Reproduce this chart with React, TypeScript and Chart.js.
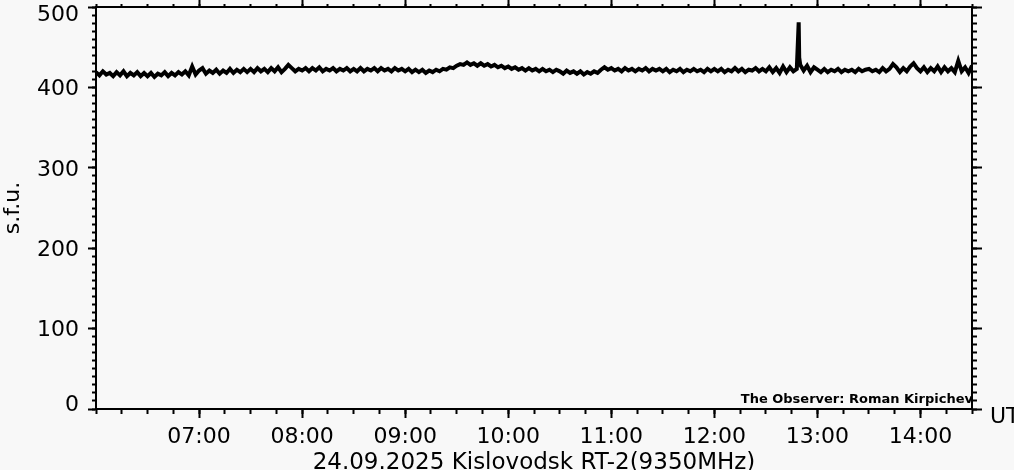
import React, { useEffect, useRef } from "react";
import { Chart, registerables } from "chart.js";

Chart.register(...registerables);

// Time axis (minutes after 00:00 UT)
const START_MIN = 360; // 06:00
const END_MIN = 870; // 14:30
const STEP_MIN = 2;

// Flux values (s.f.u.) every 2 minutes from 06:00, one row per half hour
const flux0600 = [419, 415, 420, 416, 418, 414, 419, 415, 420, 414, 418, 415, 419, 414, 418];
const flux0630 = [414, 418, 413, 417, 415, 419, 414, 418, 415, 419, 416, 420, 415, 426, 416];
const flux0700 = [421, 424, 417, 421, 418, 422, 417, 421, 418, 423, 418, 422, 419, 423, 419];
const flux0730 = [423, 419, 424, 420, 423, 419, 424, 420, 425, 419, 423, 428, 424, 420, 423];
const flux0800 = [421, 424, 420, 424, 421, 425, 420, 423, 421, 424, 420, 423, 421, 424, 420];
const flux0830 = [423, 420, 424, 420, 423, 421, 424, 420, 424, 421, 423, 420, 424, 421, 423];
const flux0900 = [420, 423, 419, 422, 419, 422, 418, 421, 419, 422, 420, 423, 422, 425, 424];
const flux0930 = [427, 429, 428, 431, 428, 430, 427, 430, 427, 429, 426, 428, 425, 427, 424];
const flux1000 = [426, 423, 425, 422, 424, 421, 424, 421, 423, 420, 423, 420, 422, 419, 422];
const flux1030 = [420, 417, 421, 418, 420, 417, 420, 416, 419, 417, 420, 418, 422, 425, 422];
const flux1100 = [424, 421, 423, 420, 424, 421, 423, 420, 423, 421, 424, 420, 423, 421, 423];
const flux1130 = [420, 423, 419, 422, 420, 423, 419, 422, 420, 423, 420, 422, 419, 423, 420];
const flux1200 = [423, 420, 423, 419, 422, 420, 424, 420, 423, 419, 422, 421, 424, 420, 423];
const flux1230 = [420, 425, 419, 424, 418, 426, 419, 425, 420, 423, 428, 421, 427, 419, 425];
const flux1300 = [422, 419, 423, 419, 422, 420, 423, 419, 422, 420, 422, 419, 423, 420, 422];
const flux1330 = [423, 420, 422, 419, 424, 420, 423, 429, 425, 419, 424, 420, 426, 430, 424];
const flux1400 = [420, 425, 419, 424, 420, 426, 419, 425, 420, 424, 419, 433, 420, 425, 418];
const flux1430 = [427];

// Short burst near 12:49 UT
const burstTimes = [769.1, 769.4];
const burstValues = [481, 437];

const yTickValues = [0, 100, 200, 300, 400, 500];
const xTitle = "24.09.2025 Kislovodsk RT-2(9350MHz)";
const yTitle = "s.f.u.";
const observer = "The Observer: Roman Kirpichev";
const unitLabel = "UT";

const FONT = "'DejaVu Sans', sans-serif";

function buildPoints() {
  const all = [
    ...flux0600, ...flux0630, ...flux0700, ...flux0730, ...flux0800, ...flux0830,
    ...flux0900, ...flux0930, ...flux1000, ...flux1030, ...flux1100, ...flux1130,
    ...flux1200, ...flux1230, ...flux1300, ...flux1330, ...flux1400, ...flux1430,
  ];
  const pts = all.map((v, i) => ({ x: START_MIN + i * STEP_MIN, y: v }));
  burstTimes.forEach((t, i) => pts.push({ x: t, y: burstValues[i] }));
  pts.sort((a, b) => a.x - b.x);
  return pts;
}

function hhmm(m: number) {
  const h = Math.floor(m / 60);
  const mm = Math.round(m % 60);
  return String(h).padStart(2, "0") + ":" + String(mm).padStart(2, "0");
}

const noPad = (s: any) => {
  s.paddingTop = 0;
  s.paddingBottom = 0;
  s.paddingLeft = 0;
  s.paddingRight = 0;
};

const bgPlugin = {
  id: "bg",
  beforeDraw(chart: any) {
    const c = chart.ctx;
    c.save();
    c.fillStyle = "#f8f8f8";
    c.fillRect(0, 0, chart.width, chart.height);
    c.restore();
  },
};

const textPlugin = {
  id: "extraText",
  afterDraw(chart: any) {
    const c = chart.ctx;
    const area = chart.chartArea;
    c.save();
    c.fillStyle = "#000";
    c.textBaseline = "alphabetic";
    c.textAlign = "right";
    c.font = "bold 13px " + FONT;
    c.fillText(observer, area.right + 1, area.bottom - 6);
    c.textAlign = "left";
    c.font = "22px " + FONT;
    c.fillText(unitLabel, area.right + 18, area.bottom + 14);
    c.restore();
  },
};

export default function App() {
  const ref = useRef<HTMLCanvasElement | null>(null);

  useEffect(() => {
    if (!ref.current) return;
    const black = "#000";
    const font22 = { family: FONT, size: 22 };
    const minorX = (pos: "top" | "bottom", len: number) => ({
      type: "linear" as const,
      position: pos,
      min: START_MIN,
      max: END_MIN,
      weight: 0,
      ticks: { stepSize: 15, display: false, includeBounds: false, autoSkip: false },
      grid: { drawOnChartArea: false, drawTicks: true, tickLength: len, tickWidth: 2, tickColor: black },
      border: { display: false },
      afterFit: (s: any) => { s.height = 0; noPad(s); },
    });
    const minorY = (pos: "left" | "right", len: number) => ({
      type: "linear" as const,
      position: pos,
      min: 0,
      max: 500,
      weight: 0,
      ticks: { stepSize: 10, display: false, autoSkip: false },
      grid: { drawOnChartArea: false, drawTicks: true, tickLength: len, tickWidth: 2, tickColor: black },
      border: { display: false },
      afterFit: (s: any) => { s.width = 0; noPad(s); },
    });

    const chart = new Chart(ref.current, {
      type: "line",
      data: {
        datasets: [
          {
            data: buildPoints(),
            borderColor: black,
            borderWidth: 4,
            borderJoinStyle: "miter",
            pointRadius: 0,
            tension: 0,
            fill: false,
            xAxisID: "x",
            yAxisID: "y",
          },
        ],
      },
      options: {
        animation: false,
        responsive: false,
        maintainAspectRatio: false,
        layout: { padding: 0 },
        plugins: { legend: { display: false }, tooltip: { enabled: false } },
        scales: {
          x: {
            type: "linear",
            position: "bottom",
            min: START_MIN,
            max: END_MIN,
            weight: 1,
            ticks: {
              stepSize: 60,
              includeBounds: false,
              autoSkip: false,
              maxRotation: 0,
              padding: 6,
              color: black,
              font: font22,
              callback: (v: any) => (v > START_MIN && v < END_MIN ? hhmm(Number(v)) : ""),
            },
            grid: {
              drawOnChartArea: false,
              drawTicks: true,
              tickLength: 9,
              tickWidth: 2,
              tickColor: (ctx: any) => (ctx.tick && ctx.tick.value === START_MIN ? "rgba(0,0,0,0)" : black),
            },
            border: { display: true, color: black, width: 2 },
            title: {
              display: true,
              text: xTitle,
              color: black,
              font: { family: FONT, size: 23, lineHeight: "14px" },
              padding: 0,
            },
            afterFit: (s: any) => { s.height = 61; noPad(s); },
          },
          xm: minorX("bottom", 5),
          x2: {
            type: "linear",
            position: "top",
            min: START_MIN,
            max: END_MIN,
            weight: 1,
            ticks: { stepSize: 60, display: false, includeBounds: false, autoSkip: false },
            grid: {
              drawOnChartArea: false,
              drawTicks: true,
              tickLength: 7,
              tickWidth: 2,
              tickColor: (ctx: any) => (ctx.tick && ctx.tick.value === START_MIN ? "rgba(0,0,0,0)" : black),
            },
            border: { display: true, color: black, width: 2 },
            afterFit: (s: any) => { s.height = 7; noPad(s); },
          },
          x2m: minorX("top", 3),
          y: {
            type: "linear",
            position: "left",
            min: 0,
            max: 500,
            weight: 1,
            afterBuildTicks: (s: any) => { s.ticks = yTickValues.map((v) => ({ value: v })); },
            ticks: {
              autoSkip: false,
              padding: 9,
              labelOffset: 2,
              color: black,
              font: { family: FONT, size: 22, lineHeight: "12px" },
              callback: (v: any) => (v === 500 ? ["", "500"] : v === 0 ? ["0", ""] : String(v)),
            },
            grid: { drawOnChartArea: false, drawTicks: true, tickLength: 8, tickWidth: 2, tickColor: black },
            border: { display: true, color: black, width: 2 },
            title: {
              display: true,
              text: yTitle,
              color: black,
              font: { family: FONT, size: 22 },
              padding: 0,
            },
            afterFit: (s: any) => { s.width = 96; noPad(s); },
          },
          ym: minorY("left", 4),
          y2: {
            type: "linear",
            position: "right",
            min: 0,
            max: 500,
            weight: 1,
            afterBuildTicks: (s: any) => { s.ticks = yTickValues.map((v) => ({ value: v })); },
            ticks: { display: false },
            grid: { drawOnChartArea: false, drawTicks: true, tickLength: 10, tickWidth: 2, tickColor: black },
            border: { display: true, color: black, width: 2 },
            afterFit: (s: any) => { s.width = 42; noPad(s); },
          },
          y2m: minorY("right", 5),
        },
      } as any,
      plugins: [bgPlugin, textPlugin],
    });
    return () => chart.destroy();
  }, []);

  return (
    <div style={{ position: "fixed", left: 0, top: 0, width: 1014, height: 470, background: "#f8f8f8" }}>
      <canvas ref={ref} width={1014} height={470} style={{ display: "block", width: 1014, height: 470 }} />
    </div>
  );
}
